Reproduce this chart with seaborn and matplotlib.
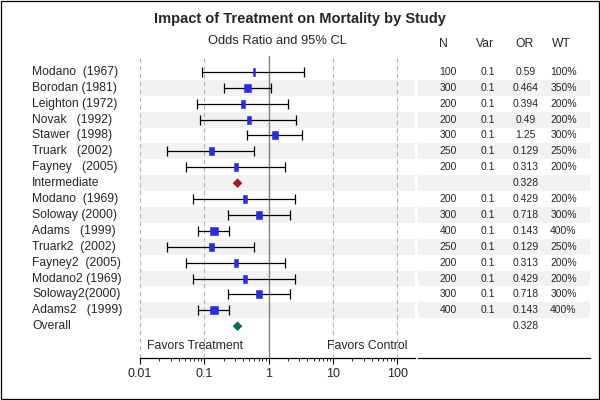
import numpy as np
import pandas as pd
import matplotlib
matplotlib.use("Agg")
import matplotlib.pyplot as plt
import seaborn as sns
from matplotlib.transforms import blended_transform_factory
from matplotlib.patches import Rectangle

# ---------------- data ----------------
studies = ["Modano  (1967)", "Borodan (1981)", "Leighton (1972)", "Novak   (1992)",
           "Stawer  (1998)", "Truark   (2002)", "Fayney   (2005)", "Intermediate",
           "Modano  (1969)", "Soloway (2000)", "Adams   (1999)", "Truark2  (2002)",
           "Fayney2  (2005)", "Modano2 (1969)", "Soloway2(2000)", "Adams2   (1999)",
           "Overall"]
odds_ratio = [0.59, 0.464, 0.394, 0.49, 1.25, 0.129, 0.313, 0.328,
              0.429, 0.718, 0.143, 0.129, 0.313, 0.429, 0.718, 0.143, 0.328]
lower_cl = [0.093, 0.20, 0.076, 0.086, 0.46, 0.0265, 0.052, np.nan,
            0.067, 0.235, 0.080, 0.0265, 0.052, 0.067, 0.235, 0.080, np.nan]
upper_cl = [3.56, 1.07, 2.01, 2.69, 3.27, 0.596, 1.80, np.nan,
            2.57, 2.16, 0.244, 0.596, 1.80, 2.57, 2.16, 0.244, np.nan]
n_vals = ["100", "300", "200", "200", "300", "250", "200", "",
          "200", "300", "400", "250", "200", "200", "300", "400", ""]
var_vals = ["0.1", "0.1", "0.1", "0.1", "0.1", "0.1", "0.1", "",
            "0.1", "0.1", "0.1", "0.1", "0.1", "0.1", "0.1", "0.1", ""]
or_labels = ["0.59", "0.464", "0.394", "0.49", "1.25", "0.129", "0.313", "0.328",
             "0.429", "0.718", "0.143", "0.129", "0.313", "0.429", "0.718", "0.143", "0.328"]
weights = [100, 350, 200, 200, 300, 250, 200, np.nan,
           200, 300, 400, 250, 200, 200, 300, 400, np.nan]
kinds = ["study"] * 7 + ["Intermediate"] + ["study"] * 8 + ["Overall"]
x_ticks = [0.01, 0.1, 1, 10, 100]
x_tick_labels = ["0.01", "0.1", "1", "10", "100"]
headers = ["N", "Var", "OR", "WT"]

df = pd.DataFrame({"study": studies, "OR": odds_ratio, "low": lower_cl, "high": upper_cl,
                   "N": n_vals, "Var": var_vals, "ORlab": or_labels, "WT": weights,
                   "kind": kinds})
df["row"] = np.arange(len(df))

# ---------------- style ----------------
sns.set_theme(style="white")
plt.rcParams["font.family"] = ["Liberation Sans", "DejaVu Sans"]

BLUE = "#2B2BE3"
RED = "#A3182C"
TEAL = "#00705A"
BAND = "#F2F2F2"

W, H = 600, 400
fig = plt.figure(figsize=(6, 4), dpi=100)
ax = fig.add_axes([140 / W, 42 / H, 275 / W, 302 / H])
tab = fig.add_axes([418 / W, 42 / H, 172 / W, 302 / H])

for a in (ax, tab):
    a.set_ylim(18, -1)
    for s in ("left", "right", "top"):
        a.spines[s].set_visible(False)
    a.spines["bottom"].set_color("black")
    a.spines["bottom"].set_linewidth(0.9)
    a.set_yticks([])
    a.set_facecolor("none")
    for i in df["row"]:
        if i % 2 == 1:
            a.axhspan(i - 0.5, i + 0.5, color=BAND, zorder=0, lw=0)

# forest axes
ax.set_xscale("log")
ax.set_xlim(0.01, 188)
ax.set_xticks(x_ticks)
ax.set_xticklabels(x_tick_labels)
ax.tick_params(axis="x", which="major", direction="out", length=4, width=0.8,
               color="black", labelsize=9, pad=3.5, bottom=True)
ax.tick_params(axis="x", which="minor", direction="out", length=2, width=0.6,
               color="black", bottom=True)
ax.xaxis.set_minor_locator(matplotlib.ticker.LogLocator(base=10, subs=np.arange(2, 10)))
ax.xaxis.set_minor_formatter(matplotlib.ticker.NullFormatter())

for v in x_ticks:
    if v == 1:
        ax.axvline(v, color="#808080", lw=1.0, zorder=1, clip_on=False)
    else:
        ax.axvline(v, color="#B4B4B4", lw=0.8, ls=(0, (4, 3)), zorder=1, clip_on=False)

st = df[df["kind"] == "study"].copy()
ax.errorbar(st["OR"], st["row"], xerr=[st["OR"] - st["low"], st["high"] - st["OR"]],
            fmt="none", ecolor="black", elinewidth=0.9, capsize=3.6, capthick=0.9, zorder=2)

marker_map = {}
for w in sorted(st["WT"].unique()):
    hw = w / 400.0
    marker_map[w] = [(-hw, -1), (hw, -1), (hw, 1), (-hw, 1), (-hw, -1)]
sns.scatterplot(data=st, x="OR", y="row", style="WT", markers=marker_map, s=33,
                color=BLUE, edgecolor=BLUE, linewidth=0.4, legend=False, ax=ax, zorder=3)

dm = df[df["kind"] != "study"]
sns.scatterplot(data=dm, x="OR", y="row", hue="kind",
                palette={"Intermediate": RED, "Overall": TEAL}, marker="D", s=24,
                linewidth=0, legend=False, ax=ax, zorder=3)
ax.set_xlabel("")
ax.set_ylabel("")

ax.text(0.024, 17.27, "Favors Treatment", transform=blended_transform_factory(ax.transAxes, ax.transData),
        ha="left", va="center", fontsize=8.8)
ax.text(0.972, 17.27, "Favors Control", transform=blended_transform_factory(ax.transAxes, ax.transData),
        ha="right", va="center", fontsize=8.8)

# row labels
lab_tr = blended_transform_factory(fig.transFigure, ax.transData)
for _, r in df.iterrows():
    ax.text(32 / W, r["row"], r["study"], transform=lab_tr, ha="left", va="center",
            fontsize=8.7, clip_on=False)

# table axes
tab.set_xlim(0, 172)
tab.set_xticks([])
head_x = [25.5, 67, 106, 143]
for hx, h in zip(head_x, headers):
    tab.text(hx, -1.78, h, ha="center", va="center", fontsize=8.7, clip_on=False)
for _, r in df.iterrows():
    tab.text(39, r["row"], r["N"], ha="right", va="center", fontsize=7.5)
    tab.text(77, r["row"], r["Var"], ha="right", va="center", fontsize=7.5)
    tab.text(107.5, r["row"], r["ORlab"], ha="center", va="center", fontsize=7.5)
    if not np.isnan(r["WT"]):
        tab.text(145.5, r["row"], f"{int(r['WT'])}%", ha="center", va="center", fontsize=7.5)

# titles
fig.text(0.5, 1 - 19 / H, "Impact of Treatment on Mortality by Study", ha="center", va="center",
         fontsize=10.5, fontweight="bold")
fig.text(277 / W, 1 - 41 / H, "Odds Ratio and 95% CL", ha="center", va="center", fontsize=9.3)

fig.add_artist(Rectangle((0.5 / W, 1.5 / H), (W - 1.5) / W, (H - 2.2) / H, transform=fig.transFigure,
                         fill=False, edgecolor="black", lw=0.9))

fig.savefig("out.png", dpi=100)
